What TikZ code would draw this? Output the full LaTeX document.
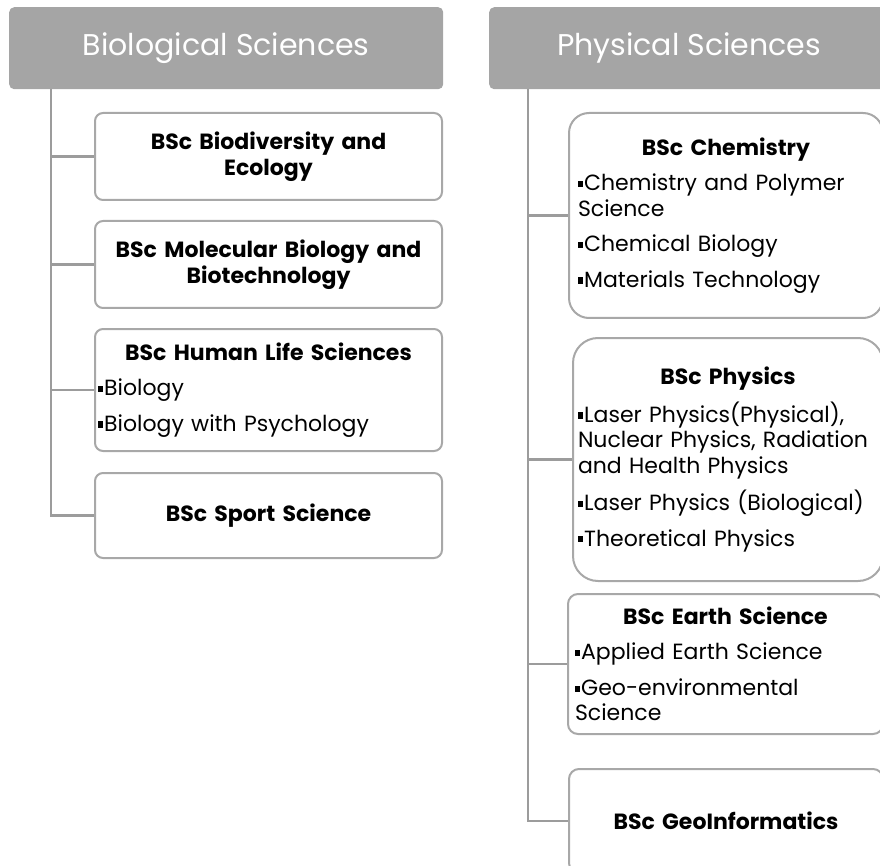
\documentclass[tikz,border=0pt]{standalone}
\usepackage{fontspec}
\setmainfont{Poppins}
\usetikzlibrary{positioning}
\definecolor{hdrgray}{HTML}{A5A5A5}
\definecolor{linegray}{HTML}{9C9C9C}
\definecolor{boxgray}{HTML}{A8A8A8}
\newcommand{\sq}{\rule[0.17em]{0.24em}{0.28em}\hspace{0.04em}}
\newcommand{\itm}{\par\vspace{10pt}\sq}
\newcommand{\ttl}[1]{{\centering\bfseries #1\par}}
\tikzset{
	hdr/.style={fill=hdrgray,rounded corners=5pt,minimum height=82pt,anchor=north west,text=white,inner sep=0pt,font=\fontsize{30}{34}\selectfont},
	course/.style={draw=boxgray,line width=2pt,fill=white,anchor=north west,inner ysep=0pt,align=left,font=\fontsize{22}{25.5}\selectfont},
	conn/.style={draw=linegray,line width=2.5pt},
}
\begin{document}
\begin{tikzpicture}[x=1pt,y=-1pt]
	\useasboundingbox (0,0) rectangle (880,866);
	\clip (0,0) rectangle (880,866);
	% headers
	\node[hdr,minimum width=434pt] (bio) at (9,7) {Biological Sciences};
	\node[hdr,minimum width=400pt] (phys) at (489,7) {Physical Sciences};
	% biological courses
	\node[course,rounded corners=8pt,minimum width=347pt,minimum height=87pt,inner xsep=3pt,text width=341pt,align=center] (biodiv) at (94,112) {\textbf{BSc Biodiversity and}\\\textbf{Ecology}};
	\node[course,rounded corners=8pt,minimum width=347pt,minimum height=87pt,inner xsep=3pt,text width=341pt,align=center] (molbio) at (94,220) {\textbf{BSc Molecular Biology and}\\\textbf{Biotechnology}};
	\node[course,rounded corners=8pt,minimum width=347pt,minimum height=122pt,inner xsep=3pt,text width=341pt] (human) at (94,328) {\ttl{BSc Human Life Sciences}\itm Biology\itm Biology with Psychology};
	\node[course,rounded corners=8pt,minimum width=347pt,minimum height=85pt,inner xsep=3pt,text width=341pt,align=center] (sport) at (94,472) {\textbf{BSc Sport Science}};
	% physical courses
	\node[course,rounded corners=20pt,minimum width=314pt,minimum height=205pt,inner xsep=9pt,text width=296pt] (chem) at (568,112) {\ttl{BSc Chemistry}\itm Chemistry and Polymer\\Science\itm Chemical Biology\itm Materials Technology};
	\node[course,rounded corners=25pt,minimum width=310pt,minimum height=243pt,inner xsep=5pt,text width=300pt] (physics) at (572,337) {\ttl{BSc Physics}\itm Laser Physics(Physical),\\Nuclear Physics, Radiation\\and Health Physics\itm Laser Physics (Biological)\itm Theoretical Physics};
	\node[course,rounded corners=10pt,minimum width=315pt,minimum height=140pt,inner xsep=7pt,text width=301pt] (earth) at (567,593) {\ttl{BSc Earth Science}\itm Applied Earth Science\itm Geo-environmental\\Science};
	\node[course,rounded corners=10pt,minimum width=314pt,minimum height=104pt,inner xsep=7pt,text width=300pt,align=center] (geoinf) at (568,768) {\textbf{BSc GeoInformatics}};
	% trunks and branches
	\coordinate (bt) at (51,89);
	\coordinate (pt) at (528,89);
	\draw[conn] (bt) |- (sport.west);
	\draw[conn] (bt |- biodiv.west) -- (biodiv.west);
	\draw[conn] (bt |- molbio.west) -- (molbio.west);
	\draw[conn] (bt |- human.west) -- (human.west);
	\draw[conn] (pt) |- (geoinf.west);
	\draw[conn] (pt |- chem.west) -- (chem.west);
	\draw[conn] (pt |- physics.west) -- (physics.west);
	\draw[conn] (pt |- earth.west) -- (earth.west);
\end{tikzpicture}
\end{document}
